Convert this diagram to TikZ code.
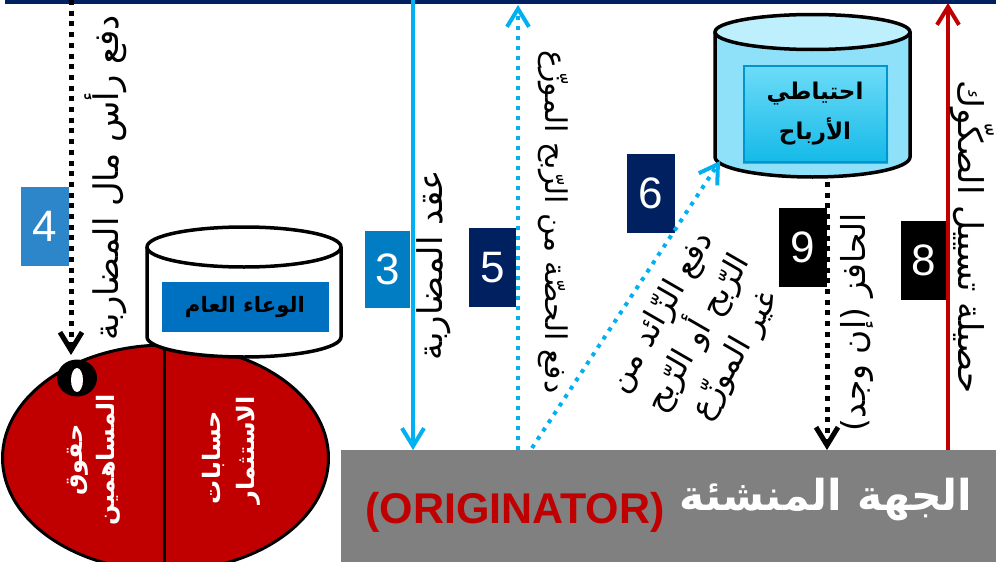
\documentclass[tikz,border=0pt]{standalone}
\usepackage{fontspec}
\usepackage{graphicx}
\setmainfont{Liberation Sans}
\newfontfamily\arabicfont[Script=Arabic]{DejaVu Sans}
\TeXXeTstate=1
\usetikzlibrary{arrows.meta}
\definecolor{navy}{RGB}{0,32,96}
\definecolor{skyb}{RGB}{0,176,240}
\definecolor{darkred}{RGB}{192,0,0}
\definecolor{boxfour}{RGB}{46,134,202}
\definecolor{boxthree}{RGB}{0,125,195}
\definecolor{potblue}{RGB}{0,112,192}
\definecolor{cylbody}{RGB}{143,225,249}
\definecolor{cyltop}{RGB}{189,239,252}
\definecolor{resboxtop}{RGB}{110,220,248}
\definecolor{resboxbot}{RGB}{20,185,232}
\definecolor{resedge}{RGB}{0,150,205}
\definecolor{origgray}{RGB}{128,128,128}
\begin{document}
\begin{tikzpicture}[x=1pt,y=-1pt,
  numbox/.style={fill=#1, text=white, inner sep=0pt,
    font=\fontsize{44}{44}\selectfont, minimum width=48pt, minimum height=79pt},
  vhead/.style={-{Straight Barb[length=18pt,width=22pt]}},
  blackdots/.style={draw=black, line width=5pt, dash pattern=on 5pt off 5.7pt},
  bluedots/.style={draw=skyb, line width=4pt, dash pattern=on 4pt off 6pt},
  solidblue/.style={draw=skyb, line width=4pt},
  solidred/.style={draw=darkred, line width=4pt},
  cylline/.style={draw=black, line width=3.5pt},
  lab/.style={inner sep=0pt, text=black}]
\useasboundingbox (0,0) rectangle (996,562);
\fill[white] (0,0) rectangle (996,562);
% top rule
\fill[navy] (5,0) rectangle (996,3.5);

% originator box
\node[fill=origgray, inner sep=0pt, minimum width=655pt, minimum height=112pt, anchor=north west] (orig) at (341,450) {};
\node[text=darkred, inner sep=0pt, font=\bfseries\fontsize{43}{43}\selectfont] (origen) at (515,512) {(ORIGINATOR)};
\node[text=white, inner sep=0pt] (origar) at (826,500) {\resizebox{293pt}{!}{\arabicfont\bfseries\beginR الجهة المنشئة\endR}};

% equity ellipse
\filldraw[fill=darkred, draw=black, line width=3pt] (165.5,458) ellipse [x radius=163, y radius=113];
\draw[line width=3pt] (164,345) -- (164,565);
\fill[black] (77,378) ellipse [x radius=20, y radius=18.5];
\fill[white] (77,380) ellipse [x radius=6, y radius=12];
\node[rotate=90, text=white, align=center, inner sep=0pt,
  font=\arabicfont\bfseries\fontsize{24}{32}\selectfont] (eqr) at (94,460) {\beginR حقوق\endR\\\beginR المساهمين\endR};
\node[rotate=90, text=white, align=left, inner sep=0pt,
  font=\arabicfont\bfseries\fontsize{24}{34}\selectfont] (inv) at (231,450) {\beginR حسابات\endR\\\beginR الاستثمار\endR};

% general pool cylinder
\fill[white] (147,247) -- (147,337) arc[start angle=180,end angle=0,x radius=97,y radius=20] -- (341,247) -- cycle;
\draw[cylline] (147,247) -- (147,337) arc[start angle=180,end angle=0,x radius=97,y radius=20] -- (341,247);
\filldraw[cylline, fill=white] (244,247) ellipse [x radius=97, y radius=20];
\node[fill=potblue, minimum width=167pt, minimum height=50pt, inner sep=0pt] (pot) at (245,307) {\resizebox{120pt}{!}{\arabicfont\bfseries\beginR الوعاء العام\endR}};

% profit reserve cylinder
\fill[cylbody] (715,32) -- (715,157) arc[start angle=180,end angle=0,x radius=97.5,y radius=20] -- (910,32) -- cycle;
\draw[cylline] (715,32) -- (715,157) arc[start angle=180,end angle=0,x radius=97.5,y radius=20] -- (910,32);
\filldraw[cylline, fill=cyltop] (812.5,32) ellipse [x radius=97.5, y radius=17.5];
\shade[top color=resboxtop, bottom color=resboxbot] (743,65) rectangle (888,163);
\draw[resedge, line width=1.5pt] (744,66) rectangle (887,162);
\node[align=center, inner sep=0pt, font=\arabicfont\bfseries\fontsize{23}{40}\selectfont] (res) at (815,114) {\beginR احتياطي\endR\\\beginR الأرباح\endR};

% number boxes
\node[numbox=boxfour] (n4) at (45,226) {4};
\node[numbox=boxthree, minimum width=45pt, minimum height=77pt] (n3) at (387.5,269.5) {3};
\node[numbox=navy, minimum width=47pt] (n5) at (492.5,267.5) {5};
\node[numbox=navy] (n6) at (651,193.5) {6};
\node[numbox=black] (n9) at (803,247.5) {9};
\node[numbox=black, minimum width=46pt] (n8) at (924,260.5) {8};

% connectors
\coordinate (s4) at (71,0);
\coordinate (e4) at (71,355);
\draw[blackdots, vhead] (s4) -- (e4);
\coordinate (s3) at (413,0);
\draw[solidblue, vhead] (s3) -- (s3 |- orig.north);
\coordinate (e5) at (518,5);
\draw[bluedots, vhead] (e5 |- orig.north) -- (e5);
\coordinate (s6) at (532,448);
\coordinate (e6) at (720,161);
\draw[bluedots, vhead] (s6) -- (e6);
\coordinate (s9) at (827,182);
\draw[blackdots, vhead] (s9) -- (s9 |- orig.north);
\coordinate (e8) at (948,3);
\draw[solidred, vhead] (e8 |- orig.north) -- (e8);

% arrow labels
\node[lab, rotate=90] (t4) at (106,178) {\resizebox{325pt}{!}{\arabicfont\beginR دفع رأس مال المضاربة\endR}};
\node[lab, rotate=90] (t3) at (434,265) {\resizebox{190pt}{!}{\arabicfont\beginR عقد المضاربة\endR}};
\node[lab, rotate=-90] (t5) at (553,222) {\resizebox{343pt}{!}{\arabicfont\beginR دفع الحصّة من الرّبح الموزّع\endR}};
\node[lab, rotate=60, align=center, font=\arabicfont\fontsize{32}{43}\selectfont] (t6) at (699,334) {\beginR دفع الزّائد من\endR\\\beginR الرّبح أو الرّبح\endR\\\beginR غير الموزّع\endR};
\node[lab, rotate=90] (t9) at (857,322) {\resizebox{218pt}{!}{\arabicfont\beginR الحافز (إن وجد)\endR}};
\node[lab, rotate=-90] (t8) at (972,237) {\resizebox{313pt}{!}{\arabicfont\beginR حصيلة تسييل الصكّوك\endR}};
\end{tikzpicture}
\end{document}
